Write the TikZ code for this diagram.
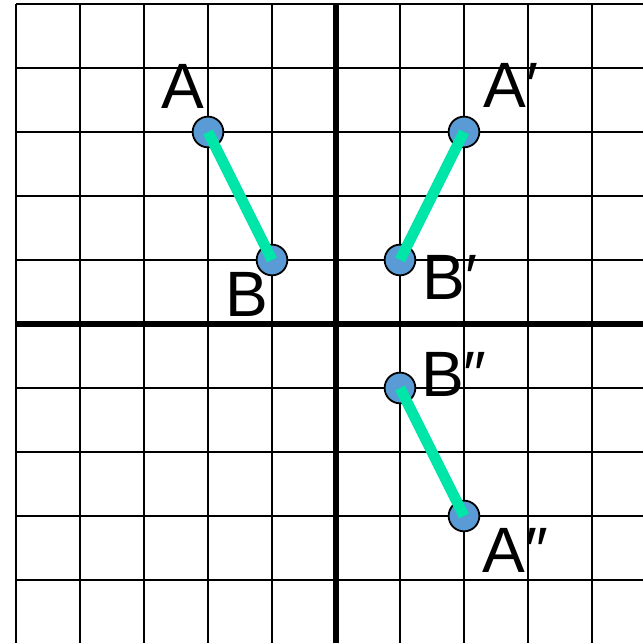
\documentclass[tikz,border=0pt]{standalone}
\usepackage{fontspec}
\setmainfont{Liberation Sans}
\usepackage{tikz}
\usetikzlibrary{arrows.meta, calc}
\usepackage{xcolor}
\definecolor{dotblue}{HTML}{5B9BD5}
\definecolor{seggreen}{HTML}{00E6A8}

\begin{document}
\begin{tikzpicture}[>=stealth,
  dot/.style={circle, draw=black, line width=0.8pt, fill=dotblue, minimum size=0.48cm, inner sep=0pt},
  seg/.style={seggreen, line width=0.17cm},
  lbl/.style={font=\fontsize{28.5}{34}\selectfont, inner sep=0pt, anchor=base}]
  \useasboundingbox (-5.25, -4.984) rectangle (4.797, 5.0625);
  \clip (-5.25, -4.984) rectangle (4.797, 5.0625);
  \draw[line width=0.9pt] (-5, -5) grid (5, 5);
  \draw[line width=2.8pt] (-5, 0) -- (5, 0);
  \draw[line width=2.8pt] (0, -5) -- (0, 5);

  \node[dot] (A) at (-2, 3) {};
  \node[dot] (B) at (-1, 1) {};
  \node[dot] (A1) at (2, 3) {};
  \node[dot] (B1) at (1, 1) {};
  \node[dot] (B2) at (1, -1) {};
  \node[dot] (A2) at (2, -3) {};

  \draw[seg] (A.center) -- (B.center);
  \draw[seg] (A1.center) -- (B1.center);
  \draw[seg] (B2.center) -- (A2.center);

  \node[lbl] (lA) at (-2.40, 3.36) {A};
  \node[lbl] (lB) at (-1.39, 0.11) {B};
  \node[lbl] (lA1) at (2.73, 3.375) {A′};
  \node[lbl] (lB1) at (1.78, 0.375) {B′};
  \node[lbl] (lB2) at (1.84, -1.14) {B″};
  \node[lbl] (lA2) at (2.80, -3.89) {A″};
\end{tikzpicture}
\end{document}
